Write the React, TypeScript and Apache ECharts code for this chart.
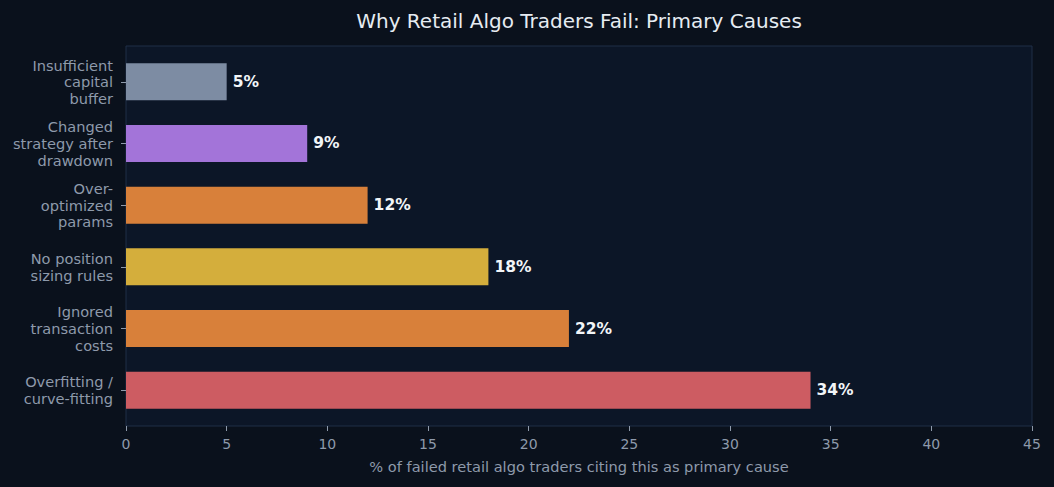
import React, { useEffect, useRef } from "react";
import * as echarts from "echarts";

const categories = [
  "Overfitting /\ncurve-fitting",
  "Ignored\ntransaction\ncosts",
  "No position\nsizing rules",
  "Over-\noptimized\nparams",
  "Changed\nstrategy after\ndrawdown",
  "Insufficient\ncapital\nbuffer",
];
const values = [34, 22, 18, 12, 9, 5];
const barColors = ["#cd5c62", "#d8803a", "#d4ae3c", "#d8803a", "#a374d9", "#7d8ca3"];
const xTicks = { min: 0, max: 45, interval: 5 };
const titleText = "Why Retail Algo Traders Fail: Primary Causes";
const xAxisName = "% of failed retail algo traders citing this as primary cause";

const FONT = "DejaVu Sans";
const TICK_COLOR = "#8e9aab";

export default function App() {
  const ref = useRef<HTMLDivElement>(null);
  useEffect(() => {
    if (!ref.current) return;
    const chart = echarts.init(ref.current, null, { renderer: "svg" });
    const plotL = 126, plotR = 1032, plotT = 46, plotB = 426;
    const unit = (plotB - plotT) / 6.16;
    const gridTop = plotT + 0.08 * unit;
    const gridBottom = plotB - 0.08 * unit;
    chart.setOption({
      animation: false,
      backgroundColor: "#0a111c",
      textStyle: { fontFamily: FONT },
      grid: {
        left: plotL,
        right: 1054 - plotR,
        top: gridTop,
        bottom: 487 - gridBottom,
        containLabel: false,
      },
      graphic: [
        {
          type: "rect",
          z: -10,
          silent: true,
          shape: { x: plotL, y: plotT, width: plotR - plotL, height: plotB - plotT },
          style: { fill: "#0c1627", stroke: "#1e2e47", lineWidth: 1 },
        },
        {
          type: "text",
          x: (plotL + plotR) / 2,
          y: 21,
          style: {
            text: titleText,
            align: "center",
            verticalAlign: "middle",
            fontSize: 20,
            fontFamily: FONT,
            fill: "#e6ecf2",
          },
        },
      ],
      xAxis: {
        type: "value",
        min: xTicks.min,
        max: xTicks.max,
        interval: xTicks.interval,
        offset: plotB - gridBottom,
        axisLine: { show: false },
        axisTick: { show: true, length: 5, lineStyle: { color: TICK_COLOR } },
        splitLine: { show: false },
        axisLabel: { color: TICK_COLOR, fontSize: 14, margin: 11, fontFamily: FONT },
        name: xAxisName,
        nameLocation: "middle",
        nameGap: 33,
        nameTextStyle: { color: TICK_COLOR, fontSize: 14.6, fontFamily: FONT },
      },
      yAxis: {
        type: "category",
        data: categories,
        axisLine: { show: false },
        axisTick: { show: true, length: 5, alignWithLabel: true, lineStyle: { color: TICK_COLOR } },
        splitLine: { show: false },
        axisLabel: {
          color: TICK_COLOR,
          fontSize: 14.6,
          lineHeight: 16.7,
          margin: 13,
          align: "right",
          fontFamily: FONT,
        },
      },
      series: [
        {
          type: "bar",
          barWidth: "60%",
          data: values.map((v, i) => ({ value: v, itemStyle: { color: barColors[i] } })),
          label: {
            show: true,
            position: "right",
            distance: 6,
            formatter: "{c}%",
            color: "#f2f5f8",
            fontWeight: "bold",
            fontSize: 15.5,
            fontFamily: FONT,
          },
        },
      ],
    });
    return () => chart.dispose();
  }, []);
  return (
    <div
      ref={ref}
      style={{ position: "fixed", left: 0, top: 0, width: 1054, height: 487 }}
    />
  );
}
